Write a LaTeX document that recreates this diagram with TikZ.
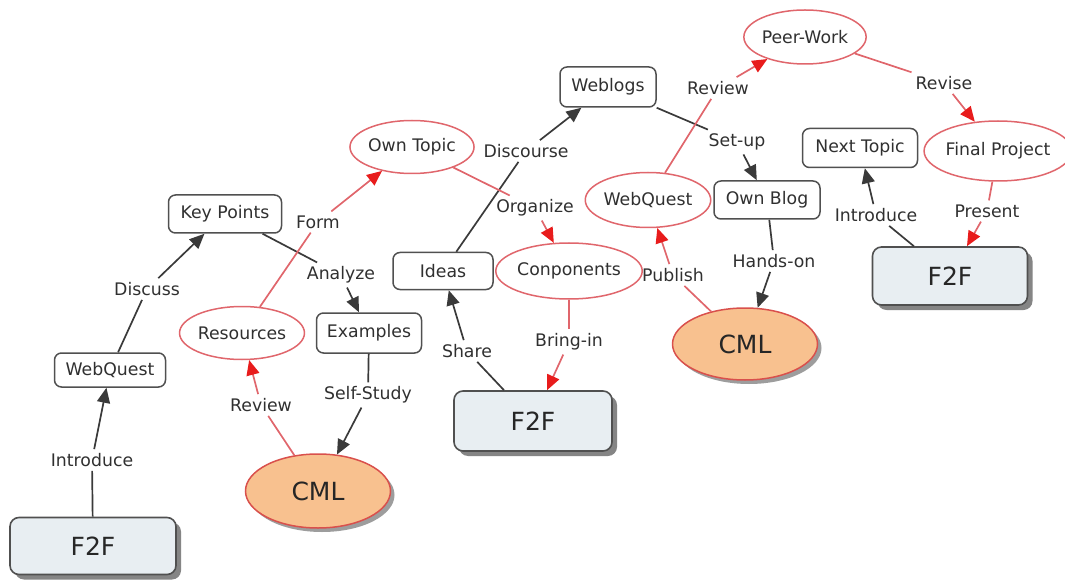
\documentclass[tikz,border=0pt]{standalone}
\usepackage{fontspec}
\setmainfont{DejaVu Sans}
\usetikzlibrary{arrows.meta,shapes.geometric,shadows}

\definecolor{ink}{HTML}{303030}
\definecolor{boxline}{HTML}{505050}
\definecolor{edgeblack}{HTML}{3A3A3A}
\definecolor{ovalred}{HTML}{E0666C}
\definecolor{tipred}{HTML}{E81C1C}
\definecolor{f2ffill}{HTML}{E8EEF2}
\definecolor{cmlfill}{HTML}{F8C18F}
\definecolor{cmlline}{HTML}{D9504C}

\begin{document}
\begin{tikzpicture}[x=1pt,y=-1pt,
  txt/.style={font=\fontsize{17.3}{20}\selectfont, text=ink},
  cbox/.style={txt, rectangle, draw=boxline, line width=1.5pt, rounded corners=7pt,
    fill=white, inner sep=0pt},
  coval/.style={txt, ellipse, draw=ovalred, line width=1.5pt, fill=white, inner sep=0pt},
  f2fbox/.style={rectangle, draw=boxline, line width=1.6pt, rounded corners=9pt,
    fill=f2ffill, inner sep=0pt, font=\fontsize{25}{28}\selectfont, text=black!85,
    drop shadow={shadow xshift=5pt, shadow yshift=-5pt, fill=black!60, opacity=0.8}},
  cmloval/.style={ellipse, draw=cmlline, line width=1.5pt, fill=cmlfill, inner sep=0pt,
    font=\fontsize{25}{28}\selectfont, text=black!85,
    drop shadow={shadow xshift=4pt, shadow yshift=-4pt, fill=black!55, opacity=0.7}},
  lab/.style={txt, inner sep=4pt},
  bline/.style={draw=edgeblack, line width=1.7pt},
  barrow/.style={bline, -{Triangle[length=15pt,width=13pt]}},
  rline/.style={draw=ovalred, line width=1.7pt},
  rarrow/.style={rline, -{Triangle[length=15pt,width=13pt,color=tipred]}},
]
\useasboundingbox (0,0) rectangle (1065,585);

% ---- concepts ----
\node[f2fbox, minimum width=166pt, minimum height=57pt] (f2fa) at (93,546) {F2F};
\node[cbox, minimum width=111pt, minimum height=34pt] (wqa) at (110,370) {WebQuest};
\node[cbox, minimum width=113pt, minimum height=38pt] (keyp) at (225,214) {Key Points};
\node[coval, minimum width=112pt, minimum height=53pt] (res) at (242,333) {Resources};
\node[cbox, minimum width=105pt, minimum height=40pt] (exam) at (369,333) {Examples};
\node[cmloval, minimum width=145pt, minimum height=74pt] (cmla) at (318,491) {CML};
\node[coval, minimum width=120pt, minimum height=53pt] (topic) at (412,147) {Own Topic};
\node[cbox, minimum width=100pt, minimum height=37pt] (ideas) at (443,271) {Ideas};
\node[cbox, minimum width=96pt, minimum height=40pt] (blogs) at (608,87) {Weblogs};
\node[coval, minimum width=128pt, minimum height=56pt] (comp) at (569,271) {Conponents};
\node[f2fbox, minimum width=158pt, minimum height=60pt] (f2fb) at (533,421) {F2F};
\node[coval, minimum width=116pt, minimum height=55pt] (wqb) at (648,200) {WebQuest};
\node[cbox, minimum width=106pt, minimum height=38pt] (ownb) at (767,200) {Own Blog};
\node[cmloval, minimum width=145pt, minimum height=72pt] (cmlb) at (745,344) {CML};
\node[coval, minimum width=116pt, minimum height=54pt] (peer) at (805,37) {Peer-Work};
\node[cbox, minimum width=115pt, minimum height=39pt] (next) at (860,148) {Next Topic};
\node[coval, minimum width=130pt, minimum height=60pt] (final) at (998,151) {Final Project};
\node[f2fbox, minimum width=155pt, minimum height=58pt] (f2fc) at (950,276) {F2F};

% ---- linking phrases ----
\node[lab] (l1) at (92,460) {Introduce};
\node[lab] (l2) at (147,289) {Discuss};
\node[lab] (l3) at (341,275) {Analyze};
\node[lab] (l4) at (368,395) {Self-Study};
\node[lab] (l5) at (261,405) {Review};
\node[lab] (l6) at (318,222) {Form};
\node[lab] (l7) at (535,208) {Organize};
\node[lab] (l8) at (569,342) {Bring-in};
\node[lab] (l9) at (467,351) {Share};
\node[lab] (l10) at (526,151) {Discourse};
\node[lab] (l11) at (737,142) {Set-up};
\node[lab] (l12) at (774,261) {Hands-on};
\node[lab] (l13) at (673,275) {Publish};
\node[lab] (l14) at (718,88) {Review};
\node[lab] (l15) at (944,83) {Revise};
\node[lab] (l16) at (987,211) {Present};
\node[lab] (l17) at (876,215) {Introduce};

% ---- black links ----
\draw[bline] (f2fa) -- (l1);  \draw[barrow] (l1) -- (wqa);
\draw[bline] (wqa) -- (l2);   \draw[barrow] (l2) -- (keyp);
\draw[bline] (keyp) -- (l3);  \draw[barrow] (l3) -- (exam);
\draw[bline] (exam) -- (l4);  \draw[barrow] (l4) -- (cmla);
\draw[bline] (f2fb) -- (l9);  \draw[barrow] (l9) -- (ideas);
\draw[bline] (ideas) -- (l10); \draw[barrow] (l10) -- (blogs);
\draw[bline] (blogs) -- (l11); \draw[barrow] (l11) -- (ownb);
\draw[bline] (ownb) -- (l12); \draw[barrow] (l12) -- (cmlb);
\draw[bline] (f2fc) -- (l17); \draw[barrow] (l17) -- (next);

% ---- red links ----
\draw[rline] (cmla) -- (l5);  \draw[rarrow] (l5) -- (res);
\draw[rline] (res) -- (l6);   \draw[rarrow] (l6) -- (topic);
\draw[rline] (topic) -- (l7); \draw[rarrow] (l7) -- (comp);
\draw[rline] (comp) -- (l8);  \draw[rarrow] (l8) -- (f2fb);
\draw[rline] (cmlb) -- (l13); \draw[rarrow] (l13) -- (wqb);
\draw[rline] (wqb) -- (l14);  \draw[rarrow] (l14) -- (peer);
\draw[rline] (peer) -- (l15); \draw[rarrow] (l15) -- (final);
\draw[rline] (final) -- (l16); \draw[rarrow] (l16) -- (f2fc);
\end{tikzpicture}
\end{document}
